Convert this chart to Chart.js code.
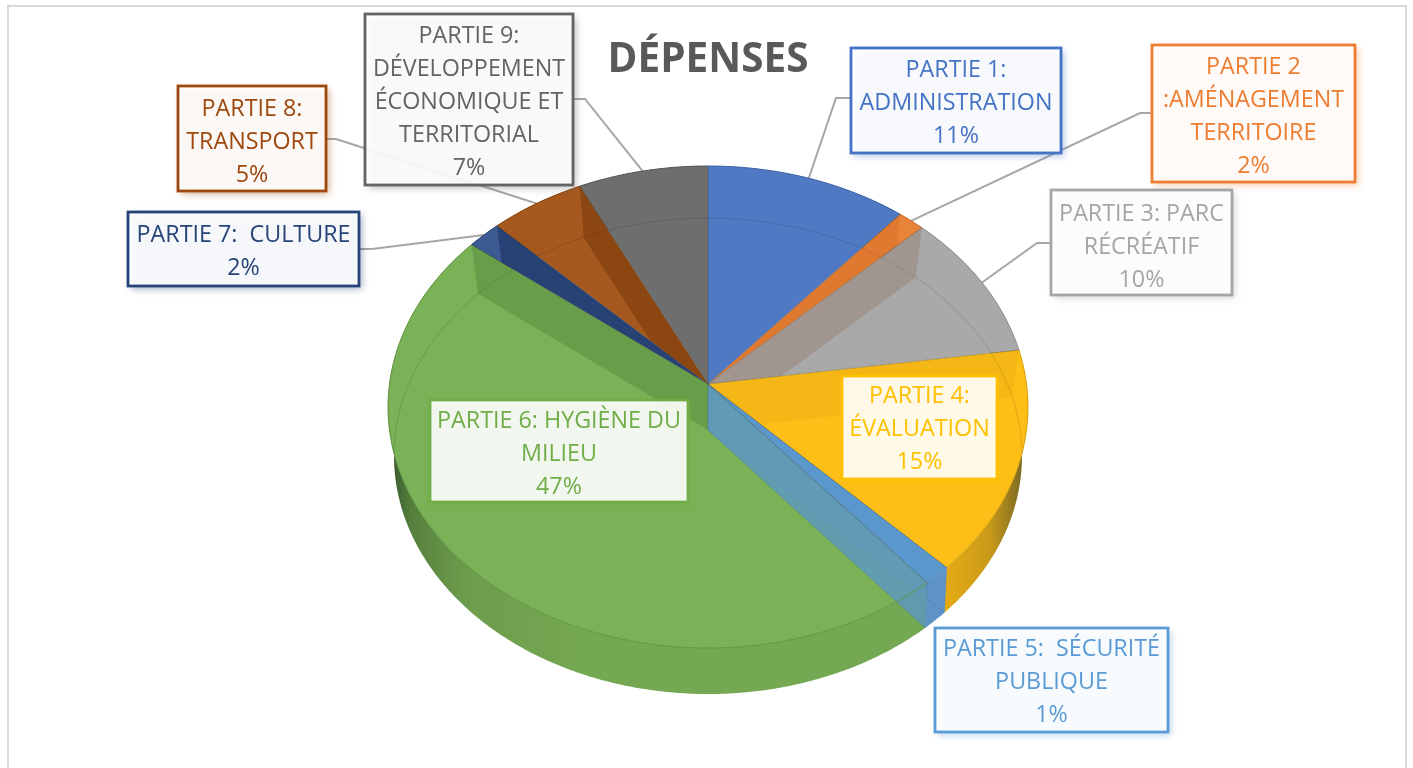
<!DOCTYPE html>
<html>
<head>
<meta charset="utf-8">
<title>Dépenses</title>
<script src="https://cdn.jsdelivr.net/npm/chart.js@4"></script>
<style>
  body { margin: 0; background: #fff; }
  #box { width: 1413px; height: 768px; }
</style>
</head>
<body>
<div id="box"><canvas id="pieChart" width="1413" height="768"></canvas></div>
<script>
// data
const titleText = "DÉPENSES";
const categories = [
  ["PARTIE 1:", "ADMINISTRATION"],
  ["PARTIE 2", ":AMÉNAGEMENT", "TERRITOIRE"],
  ["PARTIE 3: PARC", "RÉCRÉATIF"],
  ["PARTIE 4:", "ÉVALUATION"],
  ["PARTIE 5:  SÉCURITÉ", "PUBLIQUE"],
  ["PARTIE 6: HYGIÈNE DU", "MILIEU"],
  ["PARTIE 7:  CULTURE"],
  ["PARTIE 8:", "TRANSPORT"],
  ["PARTIE 9:", "DÉVELOPPEMENT", "ÉCONOMIQUE ET", "TERRITORIAL"]
];
const values = [11.2, 1.5, 10.0, 15.0, 1.3, 46.6, 1.9, 5.3, 7.2];

// colours
const labelColors = ["#4472c4", "#ed7d31", "#a5a5a5", "#ffc000", "#5b9bd5", "#70ad47", "#264478", "#9e480e", "#636363"];
const topColors = ["#5079c4", "#e8833a", "#a9a9a9", "#fdbf17", "#5b98cc", "#7bb257", "#3b5b92", "#a5591f", "#6e6e6e"];
const rimColors = ["#3f63a5", "#c96a28", "#8c8c8c", "#d9a20f", "#5f93c5", "#5f9440", "#2c4477", "#86450f", "#555555"];
// wall at the end of each slice, seen through the top
const wallColors = [
  "rgba(196,90,20,0.25)", "rgba(150,125,110,0.45)", "rgba(190,135,10,0.13)", "rgba(91,152,204,0.2)",
  "rgba(92,150,198,0.8)", "rgba(70,120,50,0.35)", "rgba(30,50,100,0.6)", "rgba(120,55,5,0.55)", "rgba(0,0,0,0)"
];
// which slice each wall shows through (-1 = nothing clips it)
const wallOwner = [1, 2, 3, -1, -1, 5, 6, 7, 8];

// label boxes: x, y, w, h, first line centre
const boxes = [
  [851, 48, 210, 105, 68],
  [1152, 45, 203, 137, 65],
  [1051, 190, 181, 105, 212],
  [842, 376, 155, 103, 394],
  [935, 628, 233, 104, 647],
  [430, 400, 258, 102, 419],
  [128, 212, 231, 74, 233],
  [178, 86, 148, 105, 107],
  [365, 14, 208, 171, 34]
];
// leader lines: start on the box, elbow
const leaders = [
  [[850, 98], [836, 98]],
  [[1152, 113], [1140, 113]],
  [[1050, 243], [1037, 243]],
  null,
  null,
  null,
  [[359, 249], [372, 249]],
  [[326, 139], [336, 139]],
  [[573, 99], [585, 99]]
];

// perspective of the two faces of the pie
const topFace = { cx: 708, cy: 384, a: 318.5, b: 238.8, p: 0.0954 };
const floorFace = { cx: 708, cy: 430, a: 312.1, b: 235.2, p: 0.1092 };

function project(face, angle) {
  // angle counted clockwise from 12 o'clock
  const u = Math.sin(angle);
  const v = -Math.cos(angle);
  const w = 1 - face.p * v;
  return [face.cx + face.a * u / w, face.cy + face.b * v / w];
}

function traceArc(ctx, face, from, to, move) {
  const steps = Math.max(2, Math.ceil(Math.abs(to - from) / 0.01));
  for (let i = 0; i <= steps; i++) {
    const p = project(face, from + (to - from) * i / steps);
    if (i === 0 && move) ctx.moveTo(p[0], p[1]);
    else ctx.lineTo(p[0], p[1]);
  }
}

function wedgePath(ctx, face, from, to) {
  ctx.beginPath();
  ctx.moveTo(face.cx, face.cy);
  traceArc(ctx, face, from, to, false);
  ctx.closePath();
}

function sideGradient(ctx, i) {
  const g = ctx.createLinearGradient(388, 0, 1028, 0);
  if (i === 5) {
    g.addColorStop(0, "#33502a");
    g.addColorStop(0.035, "#557f3c");
    g.addColorStop(0.12, "#6d9c4d");
    g.addColorStop(0.3, "#75a852");
    g.addColorStop(1, "#75a852");
    return g;
  }
  if (i === 3) {
    g.addColorStop(0, "#e5ab15");
    g.addColorStop(0.87, "#e5ab15");
    g.addColorStop(0.94, "#c99a18");
    g.addColorStop(1, "#6f6025");
    return g;
  }
  return rimColors[i];
}

const piePlugin = {
  id: "pie3d",
  beforeDraw(chart) {
    // frame of the chart, runs off the bottom of the page
    const ctx = chart.ctx;
    ctx.save();
    ctx.strokeStyle = "#d9d9d9";
    ctx.lineWidth = 2;
    ctx.strokeRect(8, 6, 1398, 800);
    ctx.restore();
  },
  beforeDatasetsDraw(chart) {
    const ctx = chart.ctx;
    const arcs = chart.getDatasetMeta(0).data;
    const start = arcs.map(a => a.startAngle + Math.PI / 2);
    const end = arcs.map(a => a.endAngle + Math.PI / 2);
    ctx.save();

    // leaders go under everything else
    ctx.strokeStyle = "#a6a6a6";
    ctx.lineWidth = 2;
    leaders.forEach((l, i) => {
      if (!l) return;
      const tip = project(topFace, (start[i] + end[i]) / 2);
      ctx.beginPath();
      ctx.moveTo(l[0][0], l[0][1]);
      ctx.lineTo(l[1][0], l[1][1]);
      ctx.lineTo(tip[0], tip[1]);
      ctx.stroke();
    });

    // outer side of the slices
    arcs.forEach((a, i) => {
      ctx.beginPath();
      traceArc(ctx, topFace, start[i], end[i], true);
      traceArc(ctx, floorFace, end[i], start[i], false);
      ctx.closePath();
      ctx.fillStyle = sideGradient(ctx, i);
      ctx.fill();
    });

    // top faces
    arcs.forEach((a, i) => {
      wedgePath(ctx, topFace, start[i], end[i]);
      ctx.fillStyle = topColors[i];
      ctx.fill();
    });

    // floor of the pie shows through as a thin line
    ctx.save();
    wedgePath(ctx, topFace, 0, Math.PI * 2);
    ctx.clip();
    ctx.beginPath();
    traceArc(ctx, floorFace, 0, Math.PI * 2, true);
    ctx.strokeStyle = "rgba(0,0,0,0.13)";
    ctx.lineWidth = 1;
    ctx.stroke();
    ctx.restore();

    // walls between slices, seen through the top
    arcs.forEach((a, i) => {
      const t = end[i];
      const rimTop = project(topFace, t);
      const rimFloor = project(floorFace, t);
      ctx.save();
      if (wallOwner[i] >= 0) {
        wedgePath(ctx, topFace, start[wallOwner[i]], end[wallOwner[i]]);
        ctx.clip();
      }
      ctx.beginPath();
      ctx.moveTo(topFace.cx, topFace.cy);
      ctx.lineTo(rimTop[0], rimTop[1]);
      ctx.lineTo(rimFloor[0], rimFloor[1]);
      ctx.lineTo(floorFace.cx, floorFace.cy);
      ctx.closePath();
      ctx.fillStyle = wallColors[i];
      ctx.fill();
      if (wallOwner[i] < 0) {
        ctx.strokeStyle = "rgba(60,110,160,0.35)";
        ctx.lineWidth = 1;
        ctx.stroke();
      }
      ctx.restore();
    });

    // edges
    arcs.forEach((a, i) => {
      ctx.beginPath();
      traceArc(ctx, topFace, start[i], end[i], true);
      ctx.strokeStyle = rimColors[i];
      ctx.lineWidth = 1;
      ctx.stroke();
      const p = project(topFace, start[i]);
      ctx.beginPath();
      ctx.moveTo(topFace.cx, topFace.cy);
      ctx.lineTo(p[0], p[1]);
      ctx.strokeStyle = "rgba(60,60,40,0.3)";
      ctx.stroke();
    });

    ctx.restore();
    return false; // the 3d faces above replace the flat arcs
  },
  afterDraw(chart) {
    const ctx = chart.ctx;
    const total = values.reduce((s, v) => s + v, 0);
    ctx.save();
    boxes.forEach((b, i) => {
      const lines = categories[i].concat(Math.round(values[i] / total * 100) + "%");
      ctx.save();
      ctx.shadowColor = labelColors[i] + "77";
      ctx.shadowBlur = 7;
      ctx.shadowOffsetX = 3;
      ctx.shadowOffsetY = 3;
      ctx.fillStyle = "rgba(255,255,255,0.9)";
      ctx.fillRect(b[0], b[1], b[2], b[3]);
      ctx.restore();
      ctx.strokeStyle = labelColors[i];
      ctx.lineWidth = 2.8;
      ctx.strokeRect(b[0], b[1], b[2], b[3]);
      ctx.fillStyle = labelColors[i];
      ctx.font = "23.3px 'Open Sans'";
      ctx.textAlign = "center";
      ctx.textBaseline = "middle";
      lines.forEach((t, j) => {
        ctx.fillText(t, b[0] + b[2] / 2, b[4] + 2 + j * 33);
      });
    });
    ctx.restore();
  }
};

new Chart(document.getElementById("pieChart"), {
  type: "pie",
  data: {
    labels: categories.map(c => c.join(" ")),
    datasets: [{ data: values, backgroundColor: topColors, borderWidth: 0 }]
  },
  plugins: [piePlugin],
  options: {
    responsive: false,
    animation: false,
    layout: { padding: { left: 3 } },
    plugins: {
      legend: { display: false },
      tooltip: { enabled: false },
      title: {
        display: true,
        text: titleText,
        color: "#595959",
        font: { family: "'Open Sans'", size: 40.5, weight: "bold" },
        padding: { top: 36, bottom: 0 }
      }
    }
  }
});
</script>
</body>
</html>
